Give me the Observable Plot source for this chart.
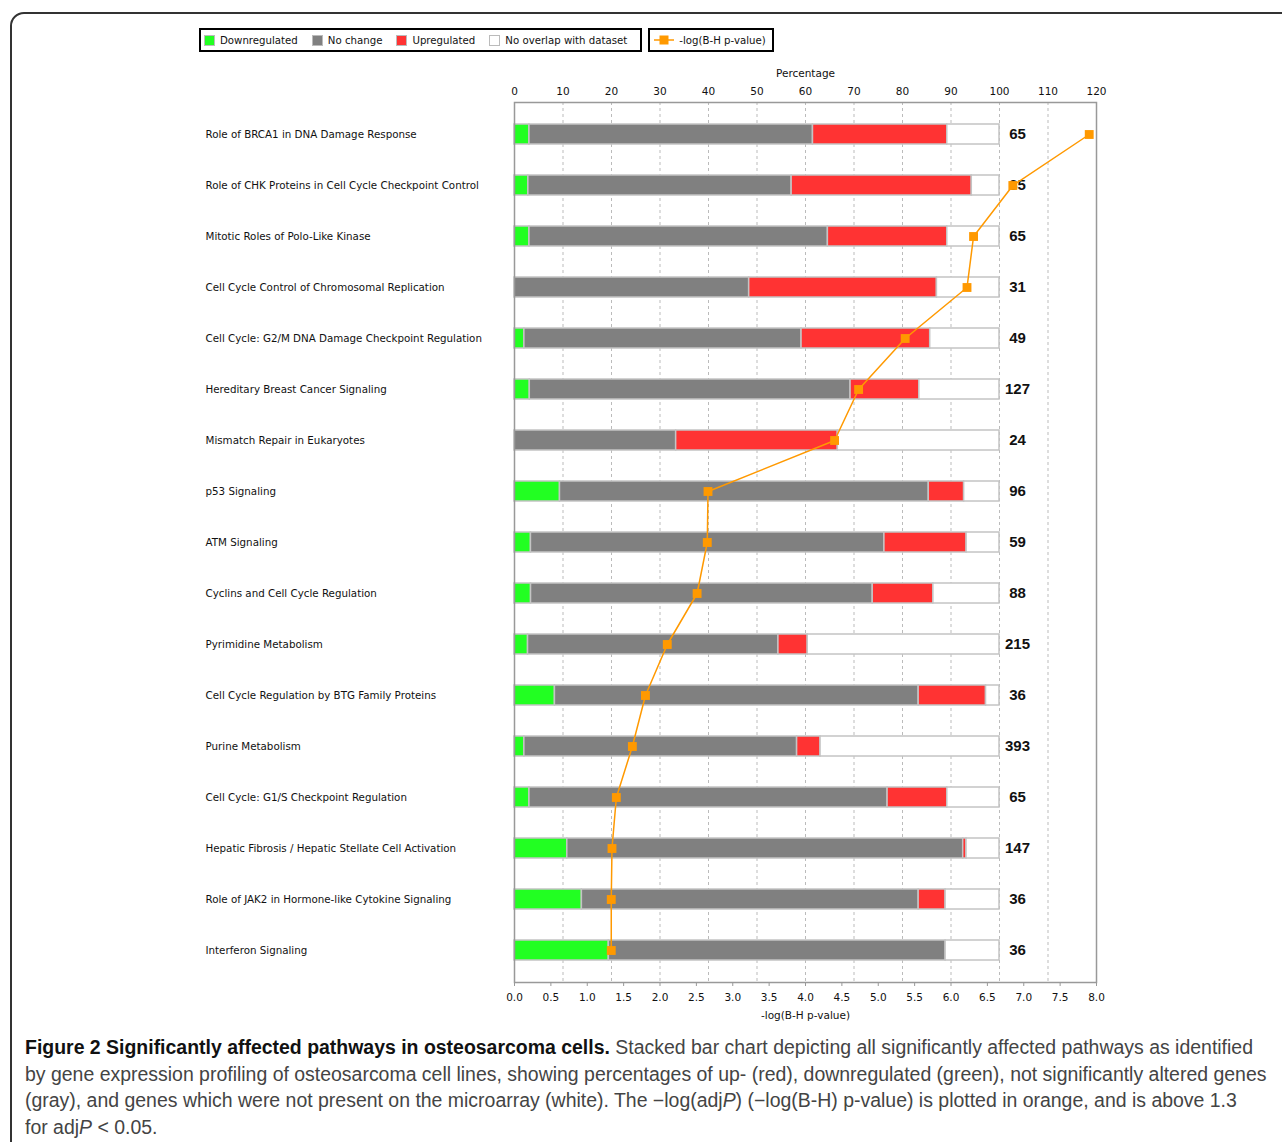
<!DOCTYPE html>
<html>
<head>
<meta charset="utf-8">
<script src="https://cdn.jsdelivr.net/npm/d3@7"></script>
<script src="https://cdn.jsdelivr.net/npm/@observablehq/plot@0.6"></script>
<style>
  html, body { margin: 0; padding: 0; background: #fff; }
  #page { position: relative; width: 1282px; height: 1142px; overflow: hidden; }
  #border { position: absolute; left: 10px; top: 12px; width: 1320px; height: 1200px;
            border: 2px solid #333; border-radius: 14px; box-sizing: border-box; }
  #chart { position: absolute; left: 0; top: 0; }
  #legend { position: absolute; left: 199px; top: 28px; display: flex; gap: 6px;
            font-family: "DejaVu Sans", sans-serif; font-size: 10.2px; color: #111; }
  .lbox { border: 2px solid #000; height: 20px; display: flex; align-items: center; padding: 0 6px 0 3px; }
  #legend .lbox:first-child { padding-right: 13px; }
  .item { display: flex; align-items: center; margin-right: 14px; }
  .item:last-child { margin-right: 0; }
  .sw { width: 11px; height: 11px; border: 1px solid #bbb; margin-right: 5px; box-sizing: border-box; }
  #caption { position: absolute; left: 25px; top: 1034px;
             font-family: "Liberation Sans", "Arial", sans-serif;
             font-size: 19.5px; line-height: 26.6px; color: #444; transform-origin: 0 0; }
  #caption .ln { display: block; white-space: nowrap; }
  #caption .ln span.m { display: inline-block; }
  #caption b { color: #111; }
</style>
</head>
<body>
<div id="page">
  <div id="border"></div>
  <div id="chart"></div>
  <div id="legend"></div>
  <div id="caption"></div>
</div>
<script>
const pathways = [
  "Role of BRCA1 in DNA Damage Response",
  "Role of CHK Proteins in Cell Cycle Checkpoint Control",
  "Mitotic Roles of Polo-Like Kinase",
  "Cell Cycle Control of Chromosomal Replication",
  "Cell Cycle: G2/M DNA Damage Checkpoint Regulation",
  "Hereditary Breast Cancer Signaling",
  "Mismatch Repair in Eukaryotes",
  "p53 Signaling",
  "ATM Signaling",
  "Cyclins and Cell Cycle Regulation",
  "Pyrimidine Metabolism",
  "Cell Cycle Regulation by BTG Family Proteins",
  "Purine Metabolism",
  "Cell Cycle: G1/S Checkpoint Regulation",
  "Hepatic Fibrosis / Hepatic Stellate Cell Activation",
  "Role of JAK2 in Hormone-like Cytokine Signaling",
  "Interferon Signaling"
];
const downregulated = [2, 1, 2, 0, 1, 4, 0, 9, 2, 3, 6, 3, 8, 2, 16, 5, 7];
const noChange      = [38, 19, 40, 15, 28, 84, 8, 73, 43, 62, 111, 27, 221, 48, 120, 25, 25];
const upregulated   = [18, 13, 16, 12, 13, 18, 8, 7, 10, 11, 13, 5, 19, 8, 1, 2, 0];
const noOverlap     = [7, 2, 7, 4, 7, 21, 8, 7, 4, 12, 85, 1, 145, 7, 10, 4, 4];
const totals        = [65, 35, 65, 31, 49, 127, 24, 96, 59, 88, 215, 36, 393, 65, 147, 36, 36];
const pValues       = [7.90, 6.85, 6.31, 6.22, 5.37, 4.73, 4.40, 2.66, 2.65, 2.51, 2.10, 1.80, 1.62, 1.40, 1.34, 1.33, 1.33];

const categories = ["Downregulated", "No change", "Upregulated", "No overlap with dataset"];
const catColors = ["#22ff22", "#808080", "#ff3333", "#ffffff"];
const lineLabel = "-log(B-H p-value)";
const lineColor = "#ff9900";

const pctTicks = [0, 10, 20, 30, 40, 50, 60, 70, 80, 90, 100, 110, 120];
const gridTicks = [10, 20, 30, 40, 50, 60, 70, 80, 90, 100, 110];
const pTicks = [0, 0.5, 1, 1.5, 2, 2.5, 3, 3.5, 4, 4.5, 5, 5.5, 6, 6.5, 7, 7.5, 8];
const pMax = 8, pctMax = 120;
const pScale = pctMax / pMax; // p-value axis shares the percentage scale

const series = [downregulated, noChange, upregulated, noOverlap];
const bars = [];
pathways.forEach((p, i) => {
  categories.forEach((c, k) => {
    bars.push({pathway: p, category: c, pct: series[k][i] / totals[i] * 100});
  });
});
const rows = pathways.map((p, i) => ({pathway: p, total: totals[i], p: pValues[i], end: 100}));

const font = "'DejaVu Sans', sans-serif";

const chart = Plot.plot({
  width: 1282,
  height: 1030,
  marginLeft: 514,
  marginRight: 186,
  marginTop: 102,
  marginBottom: 48,
  style: {fontFamily: font, fontSize: "10.5px", color: "#111", background: "transparent"},
  x: {domain: [0, pctMax]},
  y: {domain: pathways, paddingInner: 0.6, paddingOuter: 0.425, axis: null},
  color: {domain: categories, range: catColors},
  marks: [
    Plot.gridX(gridTicks, {stroke: "#bbb", strokeOpacity: 1, strokeDasharray: "3,3", strokeWidth: 1}),
    Plot.barX(bars, Plot.stackX({x: "pct", y: "pathway", fill: "category", stroke: "#c4c4c4", strokeWidth: 1.5, order: null})),
    Plot.text(pathways, {y: d => d, frameAnchor: "left", dx: -309, textAnchor: "start", fontSize: 10.3, fill: "#111"}),
    Plot.text(rows, {x: "end", y: "pathway", text: d => String(d.total), dx: 18, textAnchor: "middle",
      fontSize: 15, fontWeight: "bold", fontFamily: "'Liberation Sans', sans-serif", fill: "#111"}),
    Plot.frame({stroke: "#999", strokeWidth: 1.5}),
    Plot.axisX({anchor: "top", ticks: pctTicks, tickSize: 0, tickPadding: 8, label: "Percentage",
      labelAnchor: "center", labelArrow: "none", labelOffset: 33, tickFormat: d => String(d)}),
    Plot.axisX({anchor: "bottom", ticks: pTicks.map(v => v * pScale), tickSize: 4, tickPadding: 7,
      stroke: "#999", label: lineLabel, labelAnchor: "center", labelArrow: "none", labelOffset: 36,
      tickFormat: d => (d / pScale).toFixed(1)}),
    Plot.line(rows, {x: d => d.p * pScale, y: "pathway", stroke: lineColor, strokeWidth: 1.5}),
    Plot.dot(rows, {x: d => d.p * pScale, y: "pathway", symbol: "square", r: 5, fill: lineColor, stroke: "none"})
  ]
});
document.getElementById("chart").appendChild(chart);

// legend
const legend = document.getElementById("legend");
const box1 = document.createElement("div");
box1.className = "lbox";
categories.forEach((c, k) => {
  const it = document.createElement("div");
  it.className = "item";
  it.innerHTML = `<span class="sw" style="background:${catColors[k]}"></span><span>${c}</span>`;
  box1.appendChild(it);
});
const box2 = document.createElement("div");
box2.className = "lbox";
box2.innerHTML = `<svg width="22" height="12" style="margin-right:4px"><line x1="1" x2="21" y1="6" y2="6" stroke="${lineColor}" stroke-width="1.5"/><rect x="6.5" y="1.5" width="9" height="9" fill="${lineColor}"/></svg><span>${lineLabel}</span>`;
legend.appendChild(box1);
legend.appendChild(box2);

// caption
const captionLines = [
  "<b>Figure 2 Significantly affected pathways in osteosarcoma cells.</b> Stacked bar chart depicting all significantly affected pathways as identified",
  "by gene expression profiling of osteosarcoma cell lines, showing percentages of up- (red), downregulated (green), not significantly altered genes",
  "(gray), and genes which were not present on the microarray (white). The \u2212log(adj<i>P</i>) (\u2212log(B-H) p-value) is plotted in orange, and is above 1.3",
  "for adj<i>P</i> &lt; 0.05."
];
const cap = document.getElementById("caption");
cap.innerHTML = captionLines.map(l => `<div class="ln"><span class="m">${l}</span></div>`).join("");
const firstW = cap.querySelector(".m").getBoundingClientRect().width;
const targetW = 1228;
cap.style.transform = `scaleX(${targetW / firstW})`;
</script>
</body>
</html>
